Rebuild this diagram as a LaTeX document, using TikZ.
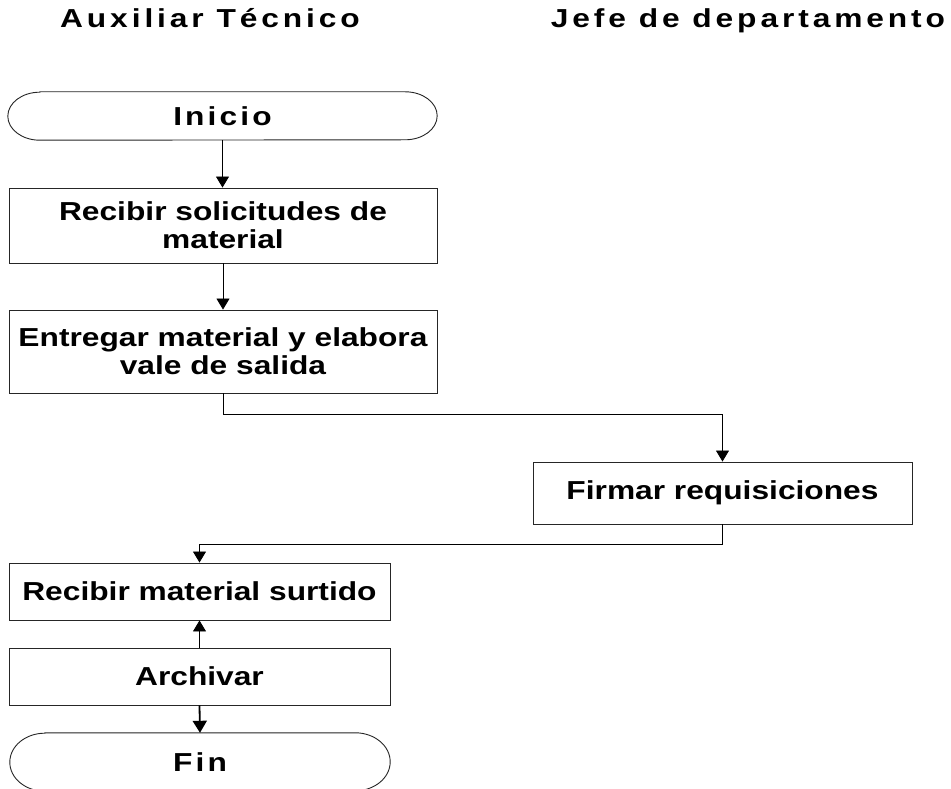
\documentclass[tikz,border=0pt]{standalone}
\usepackage{fontspec}
\setmainfont{Liberation Sans}[FakeStretch=1.22]
\newfontfamily\headspaced{Liberation Sans}[FakeStretch=1.22,LetterSpace=15]
\newfontfamily\termspaced{Liberation Sans}[FakeStretch=1.22,LetterSpace=12]
\usetikzlibrary{arrows.meta}
\newcommand\boxfont{\fontsize{26}{28}\selectfont\bfseries}
\newcommand\headfont{\headspaced\fontsize{26}{28}\selectfont\bfseries}
\newcommand\termfont{\termspaced\fontsize{26}{28}\selectfont\bfseries}
\begin{document}
\begin{tikzpicture}[x=1pt,y=1pt,
  box/.style={draw=black!85,line width=0.9pt,fill=white,inner sep=0pt,align=center,font=\boxfont},
  term/.style={inner sep=0pt,align=center,font=\termfont},
  termline/.style={draw=black!85,line width=0.9pt},
  head/.style={inner sep=0pt,anchor=base,font=\headfont},
  arr/.style={draw=black,line width=0.9pt,-{Triangle[width=13pt,length=11pt]}},
  arrthick/.style={draw=black,line width=1.8pt,-{Triangle[width=14pt,length=12pt]}}]
\clip (0,0) rectangle (951,788);
\fill[white] (0,0) rectangle (951,788);
% headers
\node[head] (h1) at (210,760) {Auxiliar Técnico};
\node[head] (h2) at (748,760) {Jefe de departamento};
% Inicio terminator
\node[term,minimum width=429pt,minimum height=48pt] (inicio) at (222.5,672) {Inicio};
\draw[termline] ([xshift=32pt]inicio.north west) -- ([xshift=-32pt]inicio.north east)
  arc[start angle=90,end angle=-90,x radius=32pt,y radius=24pt]
  -- ([xshift=32pt]inicio.south west)
  arc[start angle=270,end angle=90,x radius=32pt,y radius=24pt] -- cycle;
% boxes
\node[box,minimum width=428pt,minimum height=75pt] (b1) at (223,562.5) {Recibir solicitudes de\\material};
\node[box,minimum width=428pt,minimum height=83pt] (b2) at (223,436.5) {Entregar material y elabora\\vale de salida};
\node[box,minimum width=379pt,minimum height=62pt] (firmar) at (722.5,295) {Firmar requisiciones};
\node[box,minimum width=381pt,minimum height=57pt] (r3) at (199.5,196.5) {Recibir material surtido};
\node[box,minimum width=381pt,minimum height=57pt] (arch) at (199.5,111.5) {Archivar};
% Fin terminator
\node[term,minimum width=380pt,minimum height=58pt] (fin) at (200,26) {Fin};
\draw[termline] ([xshift=35pt]fin.north west) -- ([xshift=-35pt]fin.north east)
  arc[start angle=90,end angle=-90,x radius=35pt,y radius=29pt]
  -- ([xshift=35pt]fin.south west)
  arc[start angle=270,end angle=90,x radius=35pt,y radius=29pt] -- cycle;
% connectors
\draw[arr] (inicio.south) -- (inicio.south |- b1.north);
\draw[arr] (b1.south) -- (b2.north);
\draw[arr] (b2.south) -- ([yshift=-21pt]b2.south) -| (firmar.north);
\draw[arr] (firmar.south) -- ([yshift=-20pt]firmar.south) -| (r3.north);
\draw[arr] (arch.north) -- (r3.south);
\draw[arrthick] (arch.south) -- (fin.north);
\end{tikzpicture}
\end{document}
